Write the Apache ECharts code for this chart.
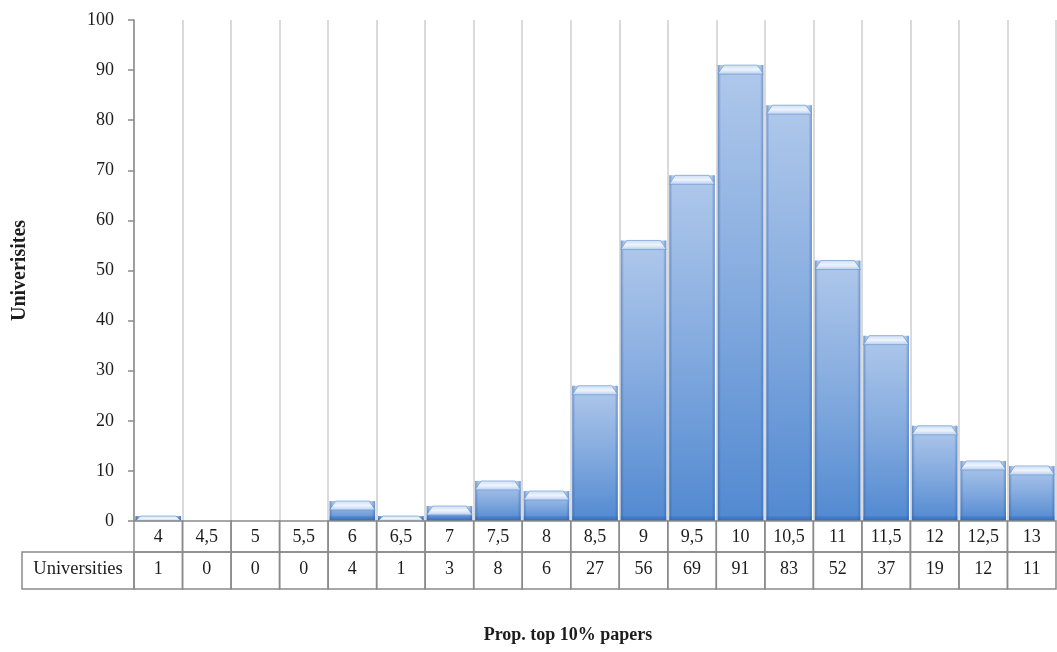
<!DOCTYPE html>
<html>
<head>
<meta charset="utf-8">
<script src="https://cdn.jsdelivr.net/npm/echarts@6/dist/echarts.min.js"></script>
<style>
  html, body { margin: 0; padding: 0; background: #ffffff; }
  #chart { width: 1057px; height: 652px; }
</style>
</head>
<body>
<div id="chart"></div>
<script>
// Histogram of universities by share of top-10% papers, with a data table under the axis
const categories = ['4', '4,5', '5', '5,5', '6', '6,5', '7', '7,5', '8', '8,5', '9', '9,5', '10', '10,5', '11', '11,5', '12', '12,5', '13'];
const universities = [1, 0, 0, 0, 4, 1, 3, 8, 6, 27, 56, 69, 91, 83, 52, 37, 19, 12, 11];
const yTicks = { min: 0, max: 100, interval: 10 };
const seriesName = 'Universities';
const yTitle = 'Univerisites';
const xTitle = 'Prop. top 10% papers';

const FONT = '"Liberation Serif", "DejaVu Serif", serif';
const TEXT = '#1c1c1c';
const TABLE_LINE = '#8a8a8a';
const ROW1 = 31, ROW2 = 37;
const BASE_Y = 521;

const chart = echarts.init(document.getElementById('chart'), null, { renderer: 'canvas' });

// Bevelled, shaded column drawn through the chart's own scales
function renderBar(params, api) {
  const v = api.value(1);
  if (!(v > 0)) return null;
  const top = api.coord([api.value(0), v]);
  const base = api.coord([api.value(0), 0]);
  const w = api.size([1, 0])[0];
  const x0 = top[0] - w / 2 + 1.5;
  const bw = w - 3;
  const h = base[1] - top[1];
  const cap = Math.min(9, h);
  const lin = echarts.graphic.LinearGradient;
  const children = [
    { type: 'rect', shape: { x: x0, y: top[1], width: bw, height: h },
      style: { fill: new lin(0, 0, 0, 1, [
        { offset: 0, color: '#b8cfef' }, { offset: 0.5, color: '#8ab0e2' }, { offset: 1, color: '#548cd3' }
      ], false) } },
    // darker side edges
    { type: 'rect', shape: { x: x0, y: top[1], width: bw, height: h },
      style: { fill: new lin(0, 0, 1, 0, [
        { offset: 0, color: 'rgba(40,90,170,0.5)' }, { offset: 0.07, color: 'rgba(40,90,170,0.06)' },
        { offset: 0.93, color: 'rgba(40,90,170,0.06)' }, { offset: 1, color: 'rgba(40,90,170,0.5)' }
      ], false) } },
    // darker base strip
    { type: 'rect', shape: { x: x0, y: base[1] - Math.min(5, h), width: bw, height: Math.min(5, h) },
      style: { fill: new lin(0, 0, 0, 1, [
        { offset: 0, color: 'rgba(40,100,180,0.2)' }, { offset: 1, color: 'rgba(35,95,175,0.7)' }
      ], false) } },
    // light top cap with bevelled corners
    { type: 'polygon', shape: { points: [
        [x0, top[1] + cap], [x0 + Math.min(6, cap), top[1]],
        [x0 + bw - Math.min(6, cap), top[1]], [x0 + bw, top[1] + cap]
      ] },
      style: { fill: new lin(0, 0, 0, 1, [
        { offset: 0, color: '#c9dcf5' }, { offset: 0.5, color: '#eef4fc' }, { offset: 1, color: '#b6cdef' }
      ], false), stroke: 'rgba(90,140,205,0.55)', lineWidth: 1 } }
  ];
  return { type: 'group', children };
}

// One column of the data table per category
function renderTableCell(params, api) {
  const c = api.coord([api.value(0), 0]);
  const w = api.size([1, 0])[0];
  const x0 = c[0] - w / 2;
  const y0 = c[1];
  return {
    type: 'group',
    children: [
      { type: 'rect', shape: { x: x0, y: y0, width: w, height: ROW1 },
        style: { fill: 'none', stroke: TABLE_LINE, lineWidth: 1.5 } },
      { type: 'rect', shape: { x: x0, y: y0 + ROW1, width: w, height: ROW2 },
        style: { fill: 'none', stroke: TABLE_LINE, lineWidth: 1.5 } },
      { type: 'text', x: c[0], y: y0 + ROW1 / 2 + 1,
        style: { text: categories[params.dataIndex], font: '18px ' + FONT, fill: TEXT, align: 'center', verticalAlign: 'middle' } },
      { type: 'text', x: c[0], y: y0 + ROW1 + ROW2 / 2 - 1,
        style: { text: String(api.value(1)), font: '18px ' + FONT, fill: TEXT, align: 'center', verticalAlign: 'middle' } }
    ]
  };
}

const data = universities.map((v, i) => [i, v]);

chart.setOption({
  animation: false,
  backgroundColor: '#ffffff',
  grid: { left: 134, right: 1, top: 20, bottom: 652 - BASE_Y, containLabel: false },
  xAxis: {
    type: 'category',
    data: categories,
    boundaryGap: true,
    axisLine: { show: false },
    axisTick: { show: false },
    axisLabel: { show: false },
    splitLine: { show: true, lineStyle: { color: '#dadada', width: 2 } }
  },
  yAxis: {
    type: 'value',
    min: yTicks.min, max: yTicks.max, interval: yTicks.interval,
    name: yTitle,
    nameLocation: 'middle',
    nameGap: 104,
    nameRotate: 90,
    nameTextStyle: { fontFamily: FONT, fontWeight: 'bold', fontSize: 20, color: TEXT },
    axisLine: { show: true, lineStyle: { color: '#8a8a8a', width: 1.5 } },
    axisTick: { show: true, length: 6, lineStyle: { color: '#8a8a8a', width: 1.5 } },
    axisLabel: { fontFamily: FONT, fontSize: 18, color: TEXT, margin: 20 },
    splitLine: { show: false }
  },
  graphic: [
    { type: 'rect', x: 0, y: 0, shape: { x: 22, y: BASE_Y + ROW1, width: 112, height: ROW2 },
      style: { fill: 'none', stroke: TABLE_LINE, lineWidth: 1.5 } },
    { type: 'text', x: 0, y: 0,
      style: { x: 78, y: BASE_Y + ROW1 + ROW2 / 2 - 1, text: seriesName, font: '18.5px ' + FONT, fill: TEXT, align: 'center', verticalAlign: 'middle' } },
    { type: 'text', x: 0, y: 0,
      style: { x: 568, y: 635, text: xTitle, font: 'bold 18px ' + FONT, fill: TEXT, align: 'center', verticalAlign: 'middle' } }
  ],
  series: [
    { type: 'custom', name: seriesName, data: data, renderItem: renderBar, clip: false, z: 3 },
    { type: 'custom', name: 'table', data: data, renderItem: renderTableCell, clip: false, z: 4, silent: true }
  ]
});
</script>
</body>
</html>
